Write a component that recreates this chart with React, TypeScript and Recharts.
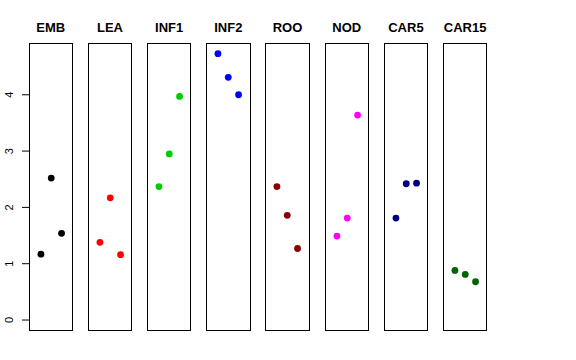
import { ScatterChart, Scatter, XAxis, YAxis } from 'recharts';

const groups = ['EMB', 'LEA', 'INF1', 'INF2', 'ROO', 'NOD', 'CAR5', 'CAR15'];
const colors = ['#000000', '#FF0000', '#00CD00', '#0000FF', '#8B0000', '#FF00FF', '#000080', '#006400'];
const positions = [1, 2, 3];

const emb = [1.17, 2.52, 1.54];
const lea = [1.38, 2.17, 1.16];
const inf1 = [2.37, 2.95, 3.97];
const inf2 = [4.73, 4.31, 4.0];
const roo = [2.37, 1.86, 1.27];
const nod = [1.49, 1.81, 3.64];
const car5 = [1.81, 2.42, 2.43];
const car15 = [0.88, 0.81, 0.68];

const seriesValues = [emb, lea, inf1, inf2, roo, nod, car5, car15];
const yTicks = [0, 1, 2, 3, 4];

const Y_DOMAIN: [number, number] = [-0.1892, 4.9192];
const X_DOMAIN: [number, number] = [-0.16, 4.16];

const PANEL_LEFT = 28.5;
const PANEL_STEP = 59.2;
const PANEL_W = 44.5;
const PANEL_TOP = 43.3;
const PANEL_H = 287.7;
const AXIS_W = 28;

const font = '"Liberation Sans", Arial, Helvetica, sans-serif';

const Dot = (props: any) => (
  <circle cx={props.cx} cy={props.cy} r={3.4} fill={props.fill} />
);

// y tick labels run along the axis, like R's default las=0
const RotTick = (props: any) => {
  const { x, y, payload } = props;
  const bx = x - 7;
  return (
    <text
      x={bx}
      y={y}
      transform={`rotate(-90, ${bx}, ${y})`}
      textAnchor="middle"
      fontSize={11}
      fontFamily={font}
      fill="#000"
    >
      {payload.value}
    </text>
  );
};

export default function App() {
  return (
    <div style={{ position: 'absolute', left: 0, top: 0, width: 576, height: 360, background: '#fff' }}>
      {groups.map((g, i) => {
        const data = positions.map((p, j) => ({ x: p, y: seriesValues[i][j] }));
        const left = PANEL_LEFT + PANEL_STEP * i;
        const first = i === 0;
        return (
          <div key={g}>
            <div
              style={{
                position: 'absolute',
                left: left,
                width: PANEL_W,
                top: 20,
                textAlign: 'center',
                fontFamily: font,
                fontWeight: 'bold',
                fontSize: 13,
                lineHeight: '16px',
              }}
            >
              {g}
            </div>
            <div style={{ position: 'absolute', left: left - (first ? AXIS_W : 0), top: PANEL_TOP }}>
              <ScatterChart
                width={PANEL_W + (first ? AXIS_W : 0)}
                height={PANEL_H}
                margin={{ top: 0, right: 0, bottom: 0, left: 0 }}
              >
                <XAxis type="number" dataKey="x" domain={X_DOMAIN} allowDataOverflow hide />
                <YAxis
                  type="number"
                  dataKey="y"
                  domain={Y_DOMAIN}
                  allowDataOverflow
                  ticks={yTicks}
                  hide={!first}
                  width={AXIS_W}
                  axisLine={false}
                  tickSize={7}
                  tickLine={{ stroke: '#000' }}
                  tick={<RotTick />}
                  interval={0}
                />
                <Scatter data={data} fill={colors[i]} shape={<Dot />} isAnimationActive={false} />
              </ScatterChart>
            </div>
            <div
              style={{
                position: 'absolute',
                left: left,
                top: PANEL_TOP,
                width: PANEL_W,
                height: PANEL_H,
                boxSizing: 'border-box',
                border: '1px solid #000',
                pointerEvents: 'none',
              }}
            />
          </div>
        );
      })}
    </div>
  );
}
